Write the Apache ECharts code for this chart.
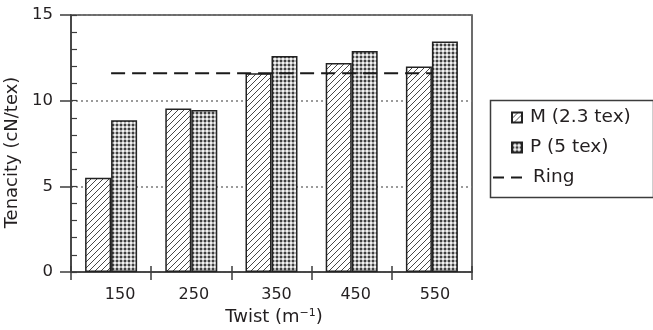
<!DOCTYPE html>
<html>
<head>
<meta charset="utf-8">
<script src="https://cdn.jsdelivr.net/npm/echarts@6/dist/echarts.min.js"></script>
<style>html,body{margin:0;padding:0;background:#fff}#chart{width:653px;height:330px}</style>
</head>
<body>
<div id="chart"></div>
<script>
const categories = ['150', '250', '350', '450', '550'];
const mValues = [5.5, 9.55, 11.6, 12.2, 12.0];
const pValues = [8.85, 9.45, 12.6, 12.9, 13.45];
const ringValues = [11.6, 11.6, 11.6, 11.6, 11.6];
const seriesNames = ['M (2.3 tex)', 'P (5 tex)', 'Ring'];
const yMin = 0, yMax = 15, yInterval = 5;
// horizontal nudge (px) of each category label, as set in the original figure
const labelShift = [9, 2.5, 5, 4, 3];

function hatchPattern() {
  const c = document.createElement('canvas');
  c.width = 6; c.height = 6;
  const ctx = c.getContext('2d');
  ctx.fillStyle = '#ffffff'; ctx.fillRect(0, 0, 6, 6);
  ctx.strokeStyle = '#333'; ctx.lineWidth = 0.9;
  ctx.beginPath();
  ctx.moveTo(-1, 7); ctx.lineTo(7, -1);
  ctx.moveTo(-4, 4); ctx.lineTo(4, -4);
  ctx.moveTo(2, 10); ctx.lineTo(10, 2);
  ctx.stroke();
  return c;
}
function dotPattern() {
  const c = document.createElement('canvas');
  c.width = 4; c.height = 4;
  const ctx = c.getContext('2d');
  ctx.fillStyle = '#b6b6b6'; ctx.fillRect(0, 0, 4, 4);
  ctx.fillStyle = '#404040'; ctx.fillRect(0, 0, 2, 2);
  ctx.fillStyle = '#f2f2f2'; ctx.fillRect(2, 2, 2, 2);
  return c;
}

const FONT = 'DejaVu Sans';
const TXT = '#231f20';
const AX = '#3c3c3c';

const categoryData = categories.map((c, i) => ({
  value: c,
  textStyle: {padding: [0, 0, 0, 2 * labelShift[i]]}
}));

const chart = echarts.init(document.getElementById('chart'), null, {renderer: 'canvas'});
chart.setOption({
  animation: false,
  backgroundColor: '#fff',
  grid: {left: 71, right: 181, top: 15, bottom: 58, show: true, borderColor: AX, borderWidth: 1.5, outerBoundsMode: 'none'},
  graphic: [{
    type: 'rect', left: 488, top: 98, z: 100,
    shape: {width: 163, height: 97},
    style: {fill: 'none', stroke: AX, lineWidth: 1.5}
  }],
  legend: [{
    data: [seriesNames[0], seriesNames[1]],
    orient: 'vertical', left: 511, top: 108, padding: 0, itemWidth: 10, itemHeight: 10, itemGap: 11,
    icon: 'rect',
    textStyle: {fontFamily: FONT, fontSize: 18.5, color: TXT, padding: [0, 0, 0, 3]}
  }, {
    data: [{name: seriesNames[2], icon: 'path://M0,0h11v2h-11zM18,0h11v2h-11z'}],
    orient: 'vertical', left: 493, top: 168, padding: 0, itemWidth: 29, itemHeight: 2,
    itemStyle: {color: '#1a1a1a'},
    textStyle: {fontFamily: FONT, fontSize: 18.5, color: TXT, padding: [0, 0, 0, 6]}
  }],
  xAxis: [{
    type: 'category', data: categoryData,
    axisLine: {lineStyle: {color: AX, width: 1.5}},
    axisTick: {show: true, length: 8, lineStyle: {color: AX, width: 1.5}},
    axisLabel: {fontFamily: FONT, fontSize: 16, color: TXT, margin: 15},
    name: '{a|Twist (m}{s|−1}{a|)}', nameLocation: 'middle', nameGap: 31,
    nameTextStyle: {padding: [0, 0, 0, 5], rich: {
      a: {fontFamily: FONT, fontSize: 18, color: TXT},
      s: {fontFamily: FONT, fontSize: 11, color: TXT, verticalAlign: 'top', padding: [0, 0, 8, 0]}
    }}
  }, {
    type: 'category', data: categories, position: 'bottom',
    axisLine: {show: false},
    axisTick: {show: true, inside: true, length: 6, lineStyle: {color: AX, width: 1.5}},
    axisLabel: {show: false}
  }],
  yAxis: [{
    type: 'value', min: yMin, max: yMax, interval: yInterval,
    axisLine: {show: true, lineStyle: {color: AX, width: 1.5}},
    axisTick: {show: true, length: 11, lineStyle: {color: AX, width: 1.5}},
    axisLabel: {fontFamily: FONT, fontSize: 16.5, color: TXT, margin: 18},
    splitLine: {show: true, lineStyle: {color: '#7a7a7a', type: [2, 3], width: 1.5}},
    name: 'Tenacity (cN/tex)', nameLocation: 'middle', nameGap: 45,
    nameTextStyle: {fontFamily: FONT, fontSize: 18, color: TXT, padding: [0, 18, 0, 0]}
  }, {
    type: 'value', min: yMin, max: yMax, interval: 1, position: 'left',
    axisLine: {show: false},
    axisTick: {show: true, inside: true, length: 6, lineStyle: {color: AX, width: 1.2}},
    axisLabel: {show: false}, splitLine: {show: false}
  }],
  series: [{
    name: seriesNames[0], type: 'bar', data: mValues, barWidth: 26, barGap: 0,
    itemStyle: {color: {image: hatchPattern(), repeat: 'repeat'}, borderColor: '#222', borderWidth: 1.5},
    emphasis: {disabled: true}
  }, {
    name: seriesNames[1], type: 'bar', data: pValues, barWidth: 26, barGap: 0,
    itemStyle: {color: {image: dotPattern(), repeat: 'repeat'}, borderColor: '#222', borderWidth: 1.5},
    emphasis: {disabled: true}
  }, {
    name: seriesNames[2], type: 'line', data: ringValues, symbol: 'none', z: 5,
    lineStyle: {color: '#1a1a1a', width: 2, type: [14, 7]},
    itemStyle: {color: '#1a1a1a'},
    emphasis: {disabled: true}
  }]
});
</script>
</body>
</html>
